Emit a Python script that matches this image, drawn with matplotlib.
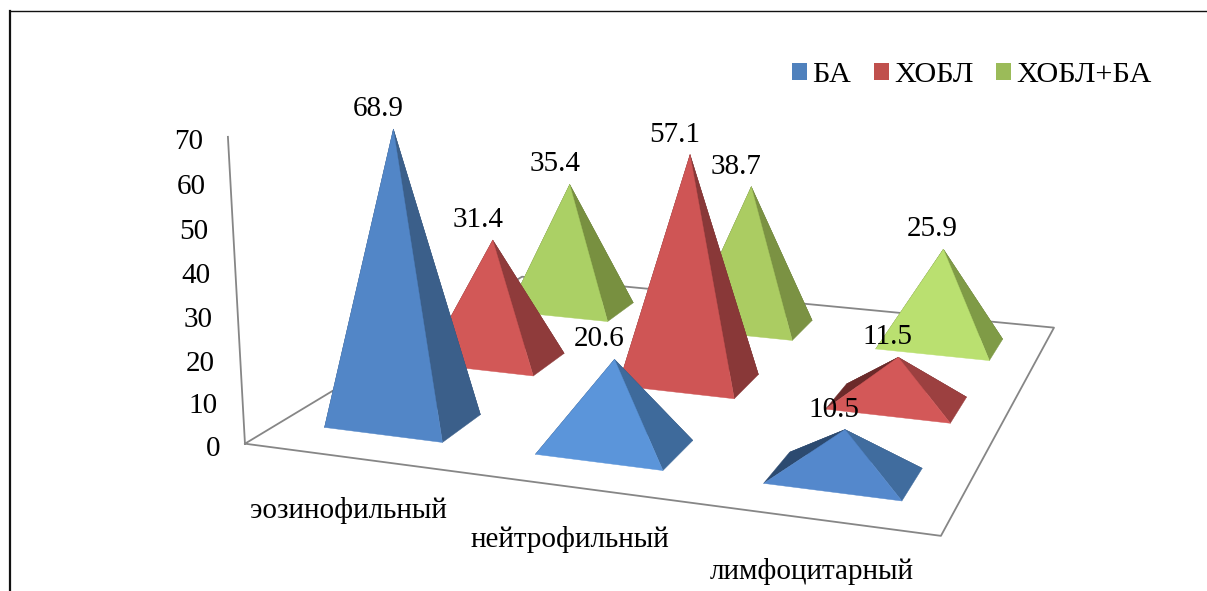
import numpy as np
import matplotlib
matplotlib.use('Agg')
import matplotlib.pyplot as plt
from matplotlib.lines import Line2D
from matplotlib.patches import Patch
from mpl_toolkits.mplot3d import proj3d
from mpl_toolkits.mplot3d.art3d import Poly3DCollection, Line3D

plt.rcParams['font.family'] = ['Liberation Serif', 'DejaVu Serif']

categories = ['эозинофильный', 'нейтрофильный', 'лимфоцитарный']
series = ['БА', 'ХОБЛ', 'ХОБЛ+БА']
ba = [68.9, 20.6, 10.5]
hobl = [31.4, 57.1, 11.5]
hobl_ba = [35.4, 38.7, 25.9]
yticks = [0, 10, 20, 30, 40, 50, 60, 70]

# front, right and left/back face colours for each pyramid, per series
colors_ba = [('#5286c7', '#3b5f8a', '#2c4a70'), ('#5b95da', '#3e6a9b', '#2c4a70'), ('#5488cc', '#406c9e', '#2c4a70')]
colors_hobl = [('#d25857', '#8f3b3b', '#6b2a2a'), ('#cf5555', '#893838', '#6b2a2a'), ('#d35858', '#9c4040', '#6b2a2a')]
colors_mix = [('#abd065', '#789040', '#5c7030'), ('#abcc62', '#7b9243', '#5c7030'), ('#bae070', '#7f9b46', '#5c7030')]
legend_colors = ['#4f81bd', '#c0504d', '#9bbb59']

W, H = 1207, 591
FS = 21
HX, HY = 0.2843, 0.1964  # half size of a pyramid base
LABEL_DX = [-15, -15, -11]

fig = plt.figure(figsize=(W / 100, H / 100), dpi=100)

# the 3d axes must stay square, it runs past the bottom of the figure
size = 919.4
ax = fig.add_axes([217.5 / W, -124.6 / H, size / W, size / H], projection='3d')
ax.set_xlim(0, 3, view_margin=0)
ax.set_ylim(0, 3, view_margin=0)
ax.set_zlim(0, 70, view_margin=0)
ax.view_init(14.0139, -71.2091, -0.2683)
ax.set_proj_type('persp', focal_length=0.3799)
ax.set_box_aspect((1, 0.9718, 0.4427))
ax.set_axis_off()
ax.computed_zorder = False
M = ax.get_proj()


def to2d(x, y, z):
    px, py, _ = proj3d.proj_transform(x, y, z, M)
    return float(px), float(py)


def pyramid(cx, cy, value, cols, zorder):
    a = (cx - HX, cy - HY, 0)
    b = (cx + HX, cy - HY, 0)
    c = (cx + HX, cy + HY, 0)
    d = (cx - HX, cy + HY, 0)
    top = (cx, cy, value)
    front, right, back = cols
    faces = [[d, c, top], [a, d, top], [a, b, top], [b, c, top]]
    poly = Poly3DCollection(faces, facecolors=[back, back, front, right],
                            edgecolors=[back, back, front, right], linewidths=0.3, zorder=zorder)
    ax.add_collection3d(poly)


# floor and value axis
line_col = '#868686'
fx = [0, 3, 3, 0, 0]
fy = [0, 0, 3, 3, 0]
ax.add_line(Line3D(fx, fy, [0] * 5, color=line_col, lw=1.3, zorder=1))
ax.add_line(Line3D([0, 0], [0, 0], [0, 70], color=line_col, lw=1.3, zorder=1))

# back row first so that the front pyramids cover it
rows = [(hobl_ba, colors_mix), (hobl, colors_hobl), (ba, colors_ba)]
z = 2
for j, (vals, cols) in zip([2, 1, 0], rows):
    for i, v in enumerate(vals):
        pyramid(i + 0.5, j + 0.5, v, cols[i], z)
        z += 1

# value labels
for j, (vals, cols) in zip([2, 1, 0], rows):
    for i, v in enumerate(vals):
        ax.annotate(f'{v}', xy=to2d(i + 0.5, j + 0.5, v), xytext=(LABEL_DX[i], 20), textcoords='offset pixels',
                    ha='center', va='center', fontsize=FS, color='black', zorder=50, annotation_clip=False)

# tick labels of the value axis
for t in yticks:
    ax.annotate(f'{t}', xy=to2d(0, 0, t), xytext=(-25, -5), textcoords='offset pixels',
                ha='right', va='center', fontsize=FS, color='black', annotation_clip=False)

# category labels
for i, name in enumerate(categories):
    ax.annotate(name, xy=to2d(i + 0.5, 0, 0), xytext=(-1, -53), textcoords='offset pixels',
                ha='center', va='center', fontsize=FS, color='black', annotation_clip=False)

handles = [Patch(facecolor=c, edgecolor='none') for c in legend_colors]
fig.legend(handles, series, loc='center left', bbox_to_anchor=(792 / W, 1 - 75 / H), ncol=3, frameon=False,
           fontsize=21.8, borderaxespad=0, borderpad=0, handlelength=0.5, handleheight=0.5,
           handletextpad=0.17, columnspacing=0.75)

# page frame around the chart
fig.add_artist(Line2D([9.5 / W, 1], [1 - 10.5 / H, 1 - 10.5 / H], color='#111111', lw=1.0))
fig.add_artist(Line2D([9.5 / W, 9.5 / W], [0, 1 - 10.5 / H], color='#111111', lw=1.6))

fig.savefig('out.png', dpi=100)
